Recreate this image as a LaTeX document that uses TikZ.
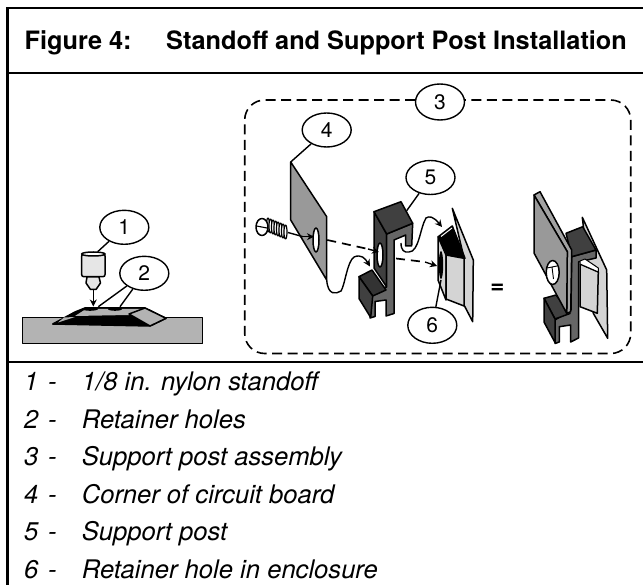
\documentclass[tikz,border=0pt]{standalone}
\usepackage{fontspec}
\setmainfont{TeX Gyre Heros}
\usetikzlibrary{shapes.geometric,arrows.meta}
\definecolor{bgray}{HTML}{B3B3B3}
\definecolor{pale}{HTML}{E6E6E6}
\definecolor{lgray}{HTML}{D4D4D4}
\definecolor{mgray}{HTML}{999999}
\definecolor{dgray}{HTML}{404040}
\definecolor{sgray}{HTML}{666666}
\tikzset{
 x=1pt,y=-1pt,
 frameline/.style={line width=2.1pt,black},
 balloon/.style={draw,ellipse,fill=white,line width=1.4pt,minimum width=49pt,minimum height=34pt,inner sep=0pt,font=\fontsize{21}{21}\selectfont},
 leader/.style={line width=1.4pt},
 part/.style={draw=black,line width=1.5pt,line join=round},
 moveline/.style={line width=1.4pt,-{Stealth[length=7pt,width=7pt]}},
 movedash/.style={line width=1.7pt,dash pattern=on 9pt off 6pt},
 box/.style={line width=1.6pt,dash pattern=on 10pt off 5.5pt,rounded corners=20pt},
 titletext/.style={anchor=base west,inner sep=0pt,font=\fontsize{25.3}{25.3}\selectfont\bfseries},
 listtext/.style={anchor=base west,inner sep=0pt,font=\fontsize{25.6}{25.6}\selectfont\itshape},
}
\begin{document}
\begin{tikzpicture}
\useasboundingbox (0,0) rectangle (643,585);
% frame
\draw[frameline] (7.5,585) -- (7.5,7.7) -- (643,7.7);
\draw[frameline] (7.5,73.3) -- (643,73.3);
\draw[frameline] (7.5,362) -- (643,362);
\node[titletext] (t1) at (24.5,50) {Figure 4:};
\node[titletext] (t2) at (166,50) {Standoff and Support Post Installation};
% left figure
\draw[part,fill=bgray] (22.7,317.7) rectangle (202.7,343.7);
\draw[part,fill=black] (52.7,324) -- (75,312) -- (85,308) -- (145,308) -- (166,318.3) -- (150,326) -- cycle;
\fill[bgray] (86,309) -- (144,309) -- (129,315) -- (75,316) -- cycle;
\draw[part,fill=bgray] (129,314) -- (145,308) -- (166,318.3) -- (150,326) -- cycle;
\fill[bgray] (58,322.5) -- (75,317) -- (64,317.5) -- cycle;
\fill[black] (90,309) ellipse (8 and 1.8) (115,309) ellipse (7 and 1.8);
\draw[part,fill=pale,rounded corners=2pt] (81.7,254) rectangle (105,276.7);
\draw[part,fill=white] (93.3,254) ellipse (11.7 and 2);
\draw[part,fill=pale] (87,277) -- (99,277) -- (100.5,283) -- (96,289.5) -- (90.5,289.5) -- (86,283) -- cycle;
\coordinate (s1) at (93.3,290);
\coordinate (s2) at (93.3,306.5);
\draw[moveline] (s1) -- (s2);
% centre figure
\draw[box] (415,100) -- (244.7,100) -- (244.7,353.5) -- (630.7,353.5) -- (630.7,100) -- (465,100);
% board
\coordinate (b4) at (290.7,162);
\draw[part,fill=mgray] (b4) -- (326.7,216.7) -- (326.7,280) -- (290.7,220) -- cycle;
\draw[part,fill=white] (316,240) ellipse (3 and 12);
% screw
\foreach \xx/\yy in {268/225,270.5/226,273/227,275.5/228,278/229,280.5/230,283/231,285.5/232}
  \draw[part,fill=white,line width=1.2pt] (\xx,\yy) ellipse (1.5 and 7);
\draw[part,fill=white] (262,227) ellipse (6 and 8.5);
\draw[line width=1.1pt] (256.5,226) -- (267,228);
\coordinate (sc1) at (288,232.5);
\coordinate (sc2) at (303,236.7);
\coordinate (sc3) at (314,236.7);
\draw[line width=1.4pt] (sc1) -- (sc2);
\draw[moveline] (303,236.7) -- (sc3);
% post foot back to front
\draw[part,fill=dgray] (374,211.7) -- (386.7,234) -- (386.7,287) -- (374,268) -- cycle;
\draw[part,fill=sgray] (386.7,234) -- (412.7,223.3) -- (411.7,246) -- (405.7,246) -- (405.7,235) -- (394,240) -- (394,313.5) -- (386,316) -- (386,300) -- (375,301.5) -- (375,316.5) -- (370,318) -- (370,290) -- (386.7,287) -- cycle;
\draw[part,fill=dgray] (374,211.7) -- (401,201.7) -- (412.7,223.3) -- (386.7,234) -- cycle;
\draw[part,fill=dgray!80!black] (359,276.7) -- (372,270) -- (386,290) -- (372.7,296) -- cycle;
\draw[part,fill=dgray] (359,276.7) -- (372.7,296) -- (370.7,317.5) -- (359,298.5) -- cycle;
\draw[part,fill=white] (380,255) ellipse (3 and 12);
\coordinate (p5) at (406.7,210.7);
% retainer
\draw[part,fill=lgray] (452.3,208.3) -- (473.3,260) -- (472.7,321.7) -- (464,305) -- (464,258) -- cycle;
\draw[part,fill=black] (438.3,236.7) -- (452.3,226) -- (465,258.3) -- (446.7,254) -- cycle;
\draw[line width=1pt,white] (441,236.5) -- (452,228);
\draw[part,fill=lgray] (438,236.7) -- (446,255) -- (446,300) -- (438,280) -- cycle;
\draw[part,fill=lgray] (446,255) -- (464,258.3) -- (464,306) -- (446,299) -- cycle;
\fill[black] (441,265) ellipse (2.2 and 14);
\coordinate (r6) at (441,280);
% motion lines
\coordinate (d1) at (327.3,240);
\coordinate (d2) at (368,249);
\draw[movedash] (d1) -- (d2);
\draw[moveline] (368,249) -- (379,252);
\draw[moveline] (326.7,280) .. controls (328,296) and (336,294) .. (341,291) .. controls (345,285) and (347,262) .. (354,257) .. controls (361,254) and (365,258) .. (370,266.5);
\coordinate (d3) at (396,258.5);
\coordinate (d4) at (425,262);
\draw[movedash] (d3) -- (d4);
\draw[moveline] (425,262) -- (437,266);
\draw[moveline] (401,243) .. controls (401,250) and (404,253) .. (409,252) .. controls (419,252) and (420,228) .. (426,218) .. controls (429,216) and (433,216) .. (442,227);
% right figure
\draw[part,fill=lgray] (582.3,217.3) -- (606.7,270) -- (607.7,338.3) -- (593.3,313.3) -- cycle;
\draw[part,fill=sgray] (571.7,256.7) -- (596,250) -- (596,258) -- (578.5,262) -- (578.5,338) -- (570.7,342) -- (570.7,325) -- (559.3,326.7) -- (559.3,342) -- (555,343.5) -- (555,320) -- (571,310) -- cycle;
\draw[part,fill=dgray] (566,233.3) -- (582.7,226.7) -- (596,250) -- (571.7,256.7) -- cycle;
\draw[part,fill=dgray] (544,298.3) -- (556,295) -- (570,313.5) -- (555,319) -- cycle;
\draw[part,fill=dgray] (544,298.3) -- (555,319) -- (555,342.5) -- (544,322) -- cycle;
\draw[part,fill=lgray] (580,264) -- (598.3,272) -- (597.3,313.3) -- (580,306.7) -- cycle;
\draw[part,fill=white,line width=1pt] (580,261) -- (585,259) -- (598.3,268) -- (598.3,272) -- (580,264) -- cycle;
\draw[part,fill=mgray!90!white] (534,195) -- (540,191.7) -- (571.7,250) -- (570.7,311.7) -- (566.7,313.3) -- (567.3,251.7) -- cycle;
\draw[part,fill=mgray] (534,195) -- (567.3,251.7) -- (566.7,313.3) -- (534,253) -- cycle;
\draw[part,fill=white] (552.7,272.5) ellipse (6.5 and 12);
\draw[line width=.9pt] (547,268) -- (557,266) (552,267) -- (553.5,279);
% equals
\node[inner sep=0pt,font=\fontsize{24}{24}\selectfont\bfseries] (eq) at (497.3,289.3) {=};
% balloons
\node[balloon] (n1) at (124.3,227.3) {1};
\node[balloon] (n2) at (144.3,273.3) {2};
\node[balloon,minimum height=36pt] (n3) at (440,102) {3};
\node[balloon] (n4) at (326.7,130) {4};
\node[balloon] (n5) at (430.5,177.5) {5};
\node[balloon,minimum height=36pt] (n6) at (432.3,325.3) {6};
\coordinate (c1) at (97.7,251.7);
\coordinate (c2a) at (98.3,306.7);
\coordinate (c2b) at (120,306.7);
\draw[leader] (n1) -- (c1);
\draw[leader] (n2) -- (c2a);
\draw[leader] (n2) -- (c2b);
\draw[leader] (n4) -- (b4);
\draw[leader] (n5) -- (p5);
\draw[leader] (n6) -- (r6);
% list
\foreach \nm/\yy/\tx in {1/390.7/1\slash 8 in. nylon standoff,2/428.3/Retainer holes,3/465.7/Support post assembly,4/503.3/Corner of circuit board,5/540.7/Support post,6/578.3/Retainer hole in enclosure}{
  \node[listtext] (l\nm) at (24,\yy) {\nm};
  \node[listtext] (m\nm) at (48,\yy) {-};
  \node[listtext] (x\nm) at (81.7,\yy) {\tx};
}
\end{tikzpicture}
\end{document}
